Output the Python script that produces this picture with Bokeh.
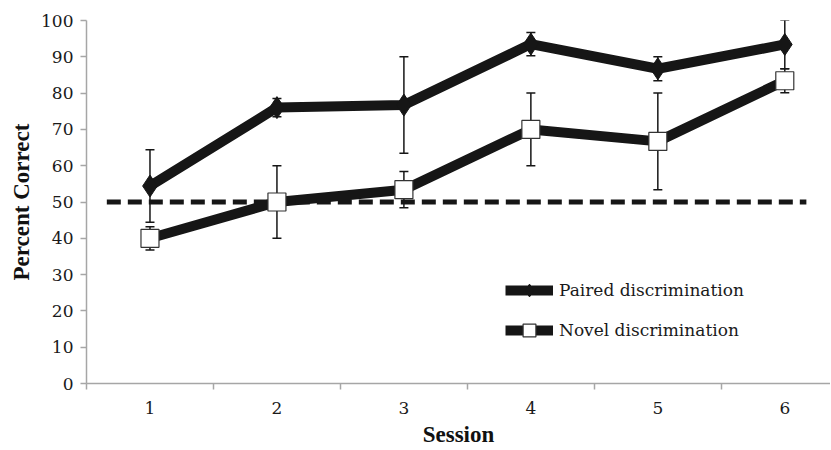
from bokeh.plotting import figure
from bokeh.models import (Range1d, FixedTicker, Whisker, TeeHead, ColumnDataSource,
                          Legend, LegendItem)
from bokeh.embed import file_html
from bokeh.resources import INLINE

# ---- data ----
sessions = [1, 2, 3, 4, 5, 6]
session_bounds = [0.5, 1.5, 2.5, 3.5, 4.5, 5.5, 6.5]
paired = [54.4, 76.0, 76.7, 93.5, 86.7, 93.4]
paired_err = [10.0, 2.5, 13.3, 3.2, 3.3, 6.7]
novel = [40.0, 50.0, 53.4, 70.0, 66.7, 83.4]
novel_err = [3.2, 10.0, 5.0, 10.0, 13.3, 3.3]
chance = 50
chance_x = [0.66, 6.17]
y_ticks = [0, 10, 20, 30, 40, 50, 60, 70, 80, 90, 100]

INK = "#161616"
AXIS = "#a6a6a6"
SERIF = "DejaVu Serif"
TITLE_FONT = "Liberation Serif"

p = figure(width=830, height=450, output_backend="svg", toolbar_location=None,
           x_range=Range1d(0.5, 6.36), y_range=Range1d(0, 100),
           min_border_left=86, min_border_right=0, min_border_top=20, min_border_bottom=67)
p.outline_line_color = None
p.grid.grid_line_color = None
p.background_fill_color = "white"

# axes
xa = p.xaxis[0]
xa.ticker = FixedTicker(ticks=sessions, minor_ticks=session_bounds)
xa.axis_line_color = AXIS
xa.axis_line_width = 1.5
xa.major_tick_line_color = None
xa.major_tick_out = 6
xa.major_tick_in = 0
xa.minor_tick_line_color = AXIS
xa.minor_tick_line_width = 1.5
xa.minor_tick_out = 6
xa.minor_tick_in = 0
xa.major_label_standoff = 12
xa.major_label_text_font = SERIF
xa.major_label_text_font_size = "17px"
xa.major_label_text_color = "#1a1a1a"
xa.axis_label = "Session"
xa.axis_label_text_font = TITLE_FONT
xa.axis_label_text_font_style = "bold"
xa.axis_label_text_font_size = "23px"
xa.axis_label_text_color = "#111111"
xa.axis_label_standoff = 5

ya = p.yaxis[0]
ya.ticker = FixedTicker(ticks=y_ticks, minor_ticks=[])
ya.axis_line_color = AXIS
ya.axis_line_width = 1.5
ya.major_tick_line_color = AXIS
ya.major_tick_line_width = 1.5
ya.major_tick_out = 6
ya.major_tick_in = 0
ya.minor_tick_line_color = None
ya.major_label_standoff = 7
ya.major_label_text_font = SERIF
ya.major_label_text_font_size = "17px"
ya.major_label_text_color = "#1a1a1a"
ya.axis_label = "Percent Correct"
ya.axis_label_text_font = TITLE_FONT
ya.axis_label_text_font_style = "bold"
ya.axis_label_text_font_size = "23px"
ya.axis_label_text_color = "#111111"
ya.axis_label_standoff = 4

# error bars
src_p = ColumnDataSource(dict(x=sessions, y=paired,
                              lo=[v - e for v, e in zip(paired, paired_err)],
                              hi=[v + e for v, e in zip(paired, paired_err)]))
src_n = ColumnDataSource(dict(x=sessions, y=novel,
                              lo=[v - e for v, e in zip(novel, novel_err)],
                              hi=[v + e for v, e in zip(novel, novel_err)]))
for src in (src_p, src_n):
    w = Whisker(base="x", lower="lo", upper="hi", source=src, level="underlay",
                line_color=INK, line_width=1.5,
                upper_head=TeeHead(size=9, line_color=INK, line_width=1.5),
                lower_head=TeeHead(size=9, line_color=INK, line_width=1.5))
    p.add_layout(w)

# series lines
lp = p.line("x", "y", source=src_p, line_color=INK, line_width=10, line_join="round")
ln = p.line("x", "y", source=src_n, line_color=INK, line_width=10, line_join="round")

# chance line
p.line(chance_x, [chance, chance], line_color=INK, line_width=5, line_dash="14 7")

# markers
mp = p.scatter("x", "y", source=src_p, marker="diamond", size=22,
               fill_color=INK, line_color=INK)
mn = p.scatter("x", "y", source=src_n, marker="square", size=18,
               fill_color="white", line_color="#333333", line_width=1.2)

legend = Legend(items=[LegendItem(label="Paired discrimination", renderers=[lp, mp]),
                       LegendItem(label="Novel discrimination", renderers=[ln, mn])],
                location=(419, 37), glyph_width=48, glyph_height=32, spacing=8,
                padding=0, margin=0, label_standoff=6,
                label_text_font=SERIF, label_text_font_size="17px",
                label_text_color="#1a1a1a",
                border_line_color=None, background_fill_alpha=0)
p.add_layout(legend, "center")

open("out.html", "w").write(file_html(p, INLINE))
